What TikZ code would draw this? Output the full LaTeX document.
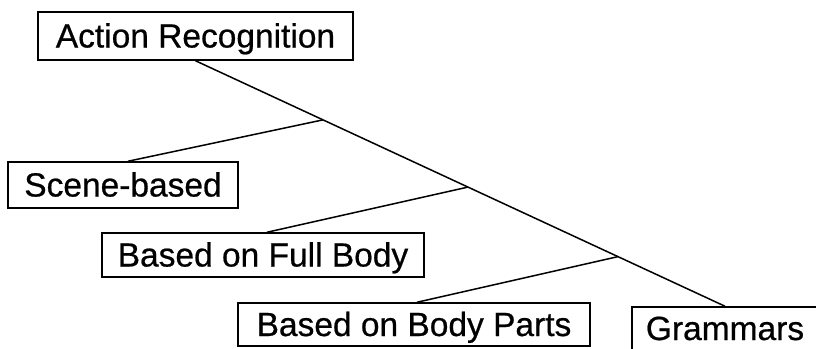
\documentclass[tikz,border=0pt]{standalone}
\usepackage{fontspec}
\setmainfont{Liberation Sans}[FakeBold=0.6]
\usetikzlibrary{calc}
\begin{document}
\begin{tikzpicture}[x=1pt,y=-1pt,
  box/.style={draw, line width=1.5pt, inner sep=0pt, text height=23pt, text depth=0pt,
    font=\fontsize{33.5}{40}\selectfont},
  link/.style={line width=1.5pt}]
\useasboundingbox (0,0) rectangle (816,348);
\clip (0,0) rectangle (816,348);
\node[box, minimum width=315pt, minimum height=48pt] (ar) at (195.5,36) {Action Recognition};
\node[box, minimum width=230pt, minimum height=46pt] (scene) at (123,185) {Scene-based};
\node[box, minimum width=322pt, minimum height=44pt] (full) at (263,255) {Based on Full Body};
\node[box, minimum width=352pt, minimum height=43pt] (parts) at (414,324.5) {Based on Body Parts};
\node[box, minimum width=186pt, minimum height=43pt] (gram) at (725,328.5) {Grammars};
\draw[link] (ar.south) -- (gram.north);
\coordinate (j1) at ($(ar.south)!0.2408!(gram.north)$);
\coordinate (j2) at ($(ar.south)!0.5146!(gram.north)$);
\coordinate (j3) at ($(ar.south)!0.7979!(gram.north)$);
\draw[link] (j1) -- ($(scene.north)+(5,0)$);
\draw[link] (j2) -- ($(full.north)+(4,0)$);
\draw[link] (j3) -- ($(parts.north)+(3,0)$);
\end{tikzpicture}
\end{document}
